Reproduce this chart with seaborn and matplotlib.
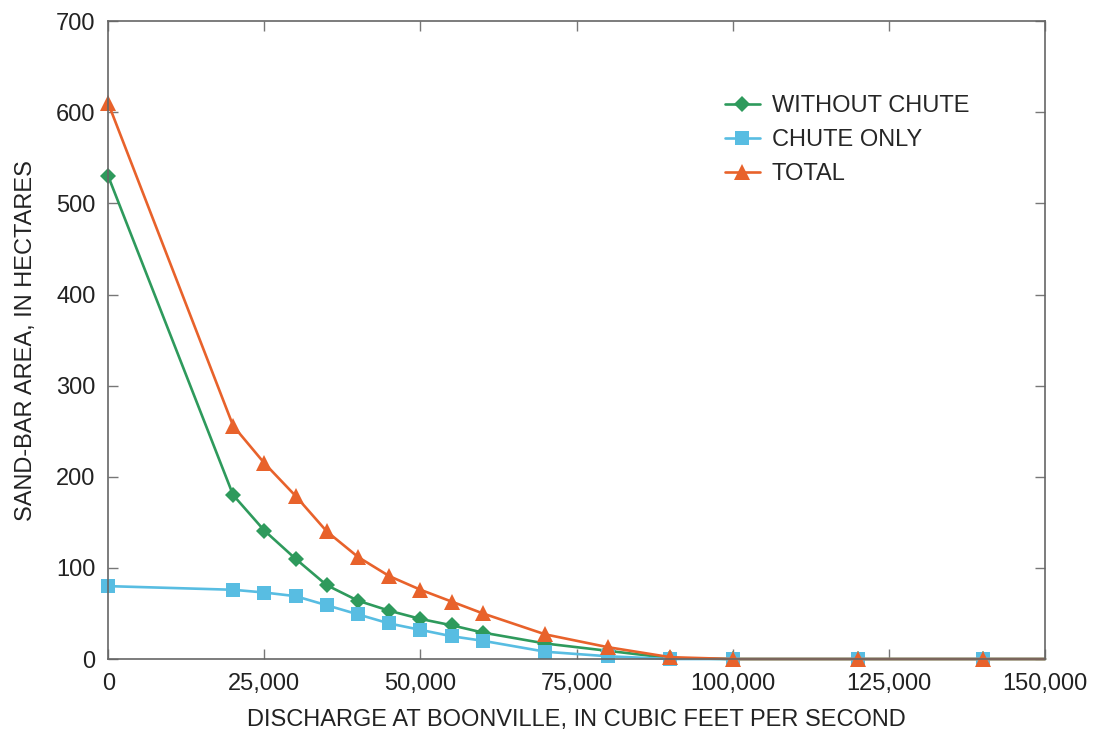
import numpy as np
import pandas as pd
import matplotlib
matplotlib.use("Agg")
import matplotlib.pyplot as plt
import seaborn as sns

# discharge at Boonville (cfs)
discharge = [0, 20000, 25000, 30000, 35000, 40000, 45000, 50000, 55000,
             60000, 70000, 80000, 90000, 100000, 120000, 140000, 150000]

# sand-bar area (hectares)
without_chute = [530, 180, 141, 110, 81, 64, 53, 44, 37, 29, 17, 9, 1, 0, 0, 0, 0]
chute_only = [80, 76, 73, 69, 59, 49, 39, 32, 25, 20, 8, 3, 0, 0, 0, 0, 0]
total = [610, 256, 215, 179, 140, 112, 91, 76, 63, 50, 27, 13, 2, 0, 0, 0, 0]

series_names = ["WITHOUT CHUTE", "CHUTE ONLY", "TOTAL"]
colors = ["#2e9a5c", "#58bde2", "#e8622b"]
markers = ["D", "s", "^"]
msizes = [8, 10, 11]

sns.set_style("ticks")
plt.rcParams["font.family"] = ["Liberation Sans", "DejaVu Sans"]

fig = plt.figure(figsize=(11.04, 7.32), dpi=100)
ax = fig.add_axes([0.098, 0.0997, 0.8486, 0.8713])

for name, vals, c, m, ms in zip(series_names, [without_chute, chute_only, total],
                                colors, markers, msizes):
    sns.lineplot(x=discharge, y=vals, ax=ax, color=c, marker=m, markersize=ms,
                 markeredgewidth=0, linewidth=1.9, label=name,
                 markevery=list(range(len(discharge) - 1)), clip_on=False)

ax.set_xlim(0, 150000)
ax.set_ylim(0, 700)
ax.set_xticks(np.arange(0, 150001, 25000))
ax.set_xticklabels([f"{v:,}" for v in range(0, 150001, 25000)])
ax.set_yticks(np.arange(0, 701, 100))

ax.tick_params(direction="in", length=7, width=1, colors="#777777",
               labelcolor="#222222", labelsize=17, top=True, right=True)
ax.tick_params(axis="y", pad=9)
ax.tick_params(axis="x", pad=10)
for s in ax.spines.values():
    s.set_color("#666666")
    s.set_linewidth(1.2)

ax.set_xlabel("DISCHARGE AT BOONVILLE, IN CUBIC FEET PER SECOND", fontsize=17,
              color="#222222", labelpad=10)
ax.set_ylabel("SAND-BAR AREA, IN HECTARES", fontsize=17, color="#222222", labelpad=14)

ax.legend(loc="upper left", bbox_to_anchor=(0.658, 0.884), frameon=False,
          fontsize=17, handlelength=1.5, handletextpad=0.5, labelspacing=0.5,
          borderpad=0, borderaxespad=0)

fig.savefig("out.png", dpi=100)
